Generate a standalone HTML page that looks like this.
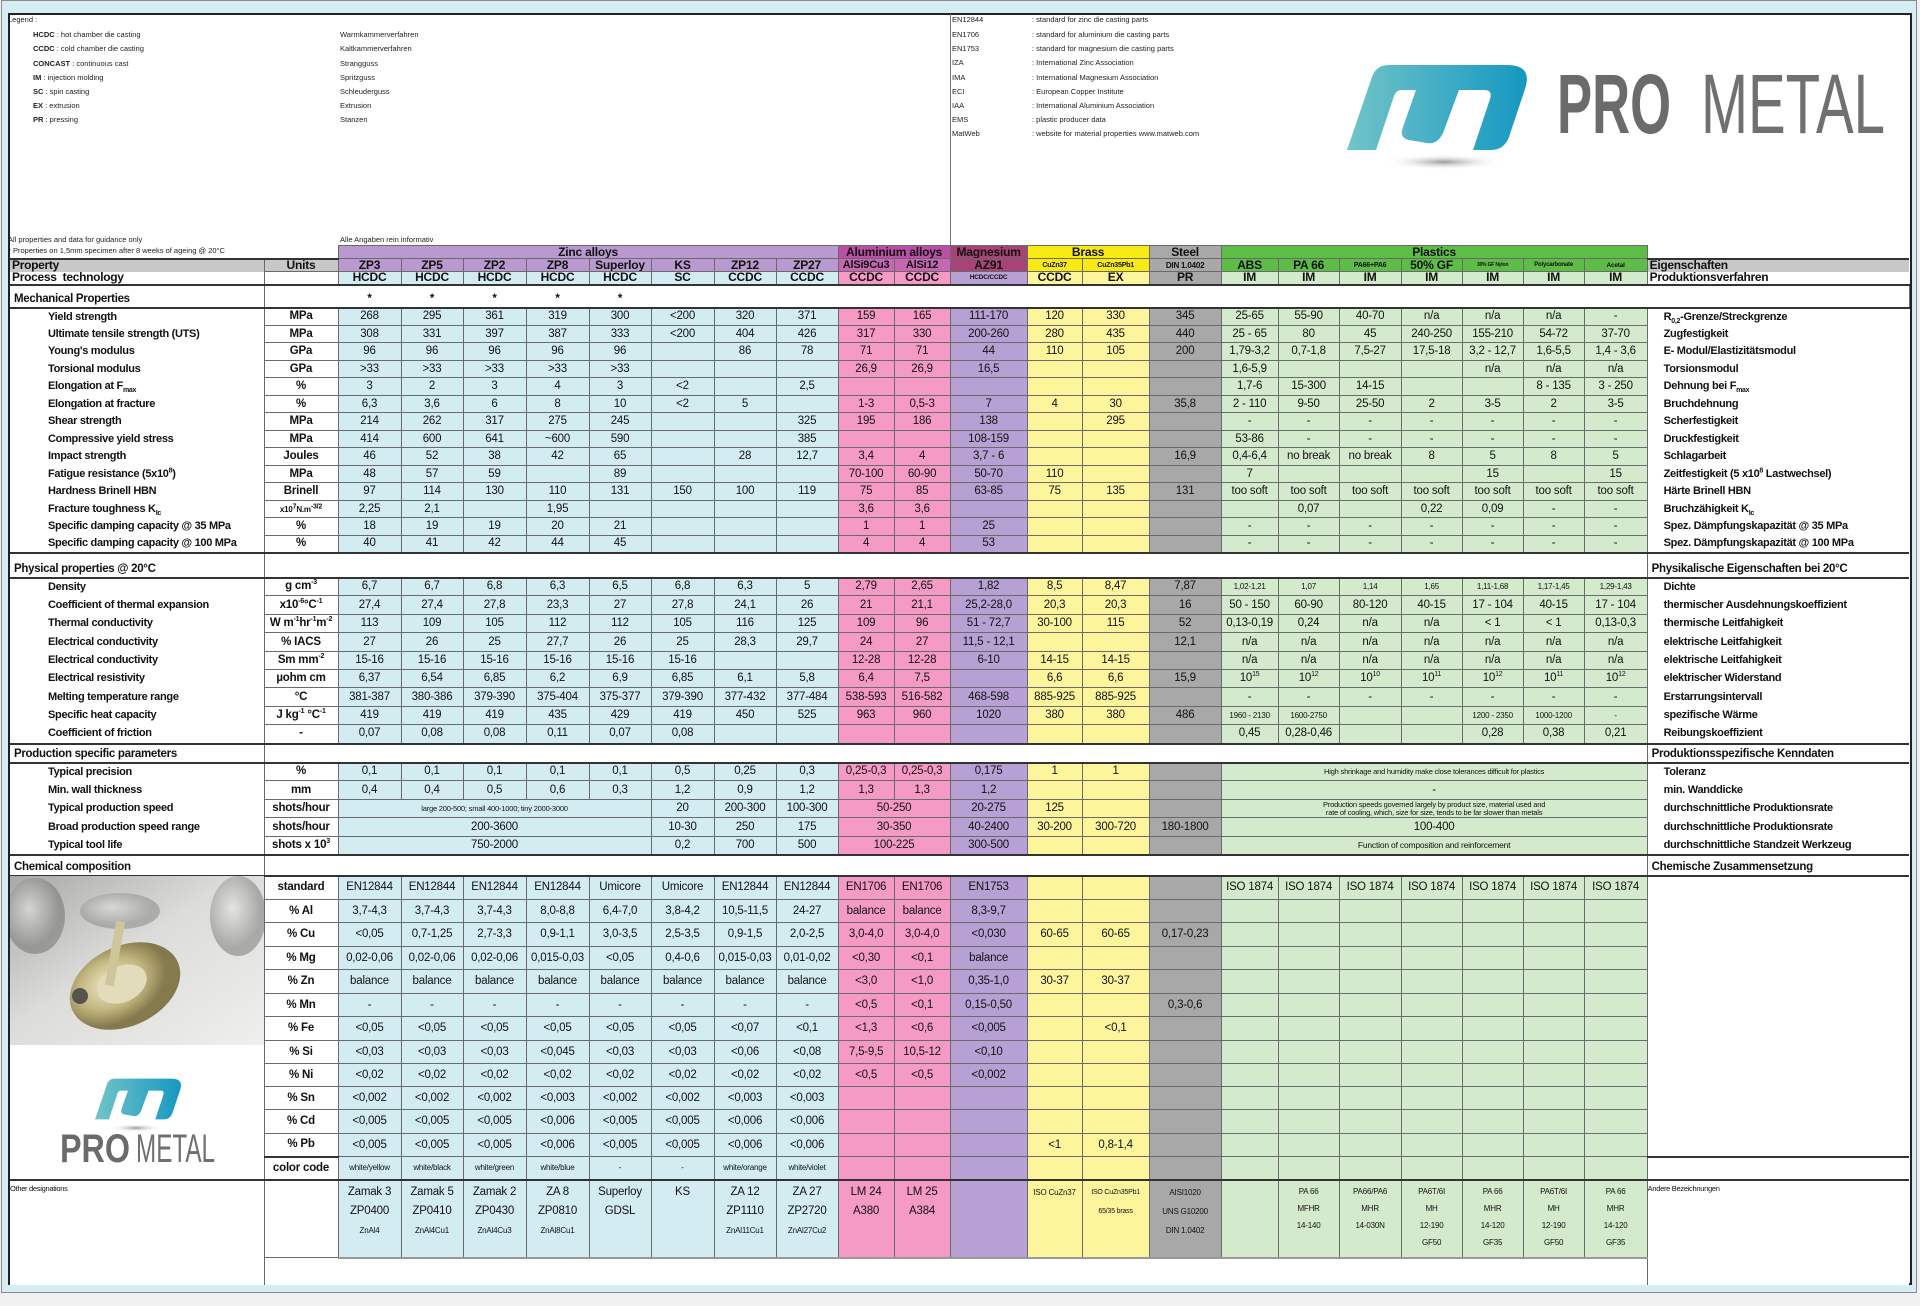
<!DOCTYPE html>
<html><head><meta charset="utf-8">
<style>
body{margin:0;width:1920px;height:1306px;background:#f1f1f1;position:relative;overflow:hidden;font-family:"Liberation Sans Narrow","Liberation Sans",Arial,sans-serif;color:#111}
#outer{position:absolute;left:1px;top:0;width:1916px;height:1293px;background:#d6eef3;border:1px solid #8a8a8a;box-sizing:border-box}
#inner{position:absolute;left:8px;top:13px;width:1904px;height:1272px;background:#fff;border:2px solid #222;box-sizing:border-box}
.lg{position:absolute;font-family:"Liberation Sans",Arial,sans-serif;font-size:7.5px;line-height:9px;white-space:nowrap;color:#222}
.lg b{font-weight:bold}
table.t{position:absolute;left:10px;top:245px;width:1899px;table-layout:fixed;border-collapse:collapse;font-size:11.5px;letter-spacing:-0.2px}
.t td{padding:0;text-align:center;white-space:nowrap;overflow:hidden;border:1px solid #6a6a6a;line-height:11px}
.t td:first-child{border:none;text-align:left;font-weight:bold;padding-left:38px;font-size:11px;letter-spacing:-0.3px}
.t td:last-child{border:none;border-left:1px solid #6a6a6a;text-align:left;font-weight:bold;padding-left:16px;font-size:11px;letter-spacing:-0.3px}
.t td:nth-child(2){font-weight:bold;background:#fff}
.t tr.r td:nth-child(n+3):nth-child(-n+10){background:#d3ecf2}
.t tr.r td:nth-child(n+11):nth-child(-n+12){background:#f59ac4}
.t tr.r td:nth-child(13){background:#b7a0d3}
.t tr.r td:nth-child(n+14):nth-child(-n+15){background:#fcf59c}
.t tr.r td:nth-child(16){background:#a8a8a8}
.t tr.r td:nth-child(n+17):nth-child(-n+23){background:#d4eacc}
.t td.z{background:#d3ecf2}.t td.a{background:#f59ac4}.t td.m{background:#b7a0d3}.t td.b{background:#fcf59c}.t td.s{background:#a8a8a8}.t td.p{background:#d4eacc}
.t td.gz{background:#b999cf}.t td.ga{background:#bb4fa8}.t td.ga2{background:#c766b2}.t td.gm{background:#a84376}.t td.gb{background:#f8ea12}.t td.gs{background:#a8a8a8}.t td.gp{background:#5dbd47}
.t tr.g td{font-weight:bold;font-size:12px}
.t tr.h td{border-top:2px solid #333;border-bottom:2px solid #333;border-left:none;border-right:none;background:#fff;font-weight:bold;font-size:11.5px;vertical-align:bottom;padding-bottom:2px}
.t tr.h td:first-child{padding-left:4px}
.t tr.h td:nth-child(2){border-left:1px solid #6a6a6a}
.t tr.h td:last-child{border-left:1px solid #6a6a6a;padding-left:4px}
.t tr.bl td{border:none;background:#fff}
.t tr.bl td:nth-child(2),.t tr.bl td:last-child{border-left:1px solid #6a6a6a}
.t tr.cc td{border-bottom:2px solid #333}
.t tr.cc td:last-child{border-top:2px solid #333}
.sm{font-size:8px}.xs{font-size:6px}.t7{font-size:7.5px}
sup,sub{font-size:7px;line-height:0}
.t tr.od td{vertical-align:top;line-height:19px;padding-top:2px}
</style></head><body>
<div id="outer"></div>
<div id="inner"></div>
<div style="position:absolute;left:950px;top:14px;width:1px;height:231px;background:#777"></div>

<div class="lg" style="left:8px;top:15px">Legend :</div>
<div class="lg" style="left:33px;top:30px"><b>HCDC</b> : hot chamber die casting</div>
<div class="lg" style="left:33px;top:44px"><b>CCDC</b> : cold chamber die casting</div>
<div class="lg" style="left:33px;top:59px"><b>CONCAST</b> : continuous cast</div>
<div class="lg" style="left:33px;top:73px"><b>IM</b> : injection molding</div>
<div class="lg" style="left:33px;top:87px"><b>SC</b> : spin casting</div>
<div class="lg" style="left:33px;top:101px"><b>EX</b> : extrusion</div>
<div class="lg" style="left:33px;top:115px"><b>PR</b> : pressing</div>
<div class="lg" style="left:340px;top:30px">Warmkammerverfahren</div>
<div class="lg" style="left:340px;top:44px">Kaltkammerverfahren</div>
<div class="lg" style="left:340px;top:59px">Strangguss</div>
<div class="lg" style="left:340px;top:73px">Spritzguss</div>
<div class="lg" style="left:340px;top:87px">Schleuderguss</div>
<div class="lg" style="left:340px;top:101px">Extrusion</div>
<div class="lg" style="left:340px;top:115px">Stanzen</div>
<div class="lg" style="left:952px;top:15px">EN12844</div><div class="lg" style="left:1032px;top:15px">: standard for zinc die casting parts</div>
<div class="lg" style="left:952px;top:30px">EN1706</div><div class="lg" style="left:1032px;top:30px">: standard for aluminium die casting parts</div>
<div class="lg" style="left:952px;top:44px">EN1753</div><div class="lg" style="left:1032px;top:44px">: standard for magnesium die casting parts</div>
<div class="lg" style="left:952px;top:58px">IZA</div><div class="lg" style="left:1032px;top:58px">: International Zinc Association</div>
<div class="lg" style="left:952px;top:73px">IMA</div><div class="lg" style="left:1032px;top:73px">: International Magnesium Association</div>
<div class="lg" style="left:952px;top:87px">ECI</div><div class="lg" style="left:1032px;top:87px">: European Copper Institute</div>
<div class="lg" style="left:952px;top:101px">IAA</div><div class="lg" style="left:1032px;top:101px">: International Aluminium Association</div>
<div class="lg" style="left:952px;top:115px">EMS</div><div class="lg" style="left:1032px;top:115px">: plastic producer data</div>
<div class="lg" style="left:952px;top:129px">MatWeb</div><div class="lg" style="left:1032px;top:129px">: website for material properties www.matweb.com</div>
<div class="lg" style="left:8px;top:235px">All properties and data for guidance only</div>
<div class="lg" style="left:8px;top:246px">* Properties on 1,5mm specimen after 8 weeks of ageing @ 20°C</div>
<div class="lg" style="left:340px;top:235px">Alle Angaben rein informativ</div>

<svg style="position:absolute;left:0;top:0" width="1920" height="1306">
<defs>
<linearGradient id="lgr" x1="0" y1="0" x2="1" y2="0"><stop offset="0" stop-color="#72c4c8"/><stop offset="1" stop-color="#1598c2"/></linearGradient>
<radialGradient id="sh"><stop offset="0" stop-color="#9a9a9a"/><stop offset="1" stop-color="#fff" stop-opacity="0"/></radialGradient>
<symbol id="ic" viewBox="0 0 182 85">
<path fill="url(#lgr)" fill-rule="evenodd" d="M0 85 L25 12 Q29 0 42 0 L160 0 Q186 0 178 24 L162 72 Q157 85 144 85 L126 85 L143 34 Q146 25 137 25 L112 25 L96 68 Q90 80 80 78 L62 75 Q52 73 56 62 L69 25 L55 25 Q49 25 47 31 L29 85 Z"/>
</symbol>
</defs>
<ellipse cx="1444" cy="162" rx="60" ry="8" fill="url(#sh)"/>
<use href="#ic" x="1347" y="65" width="182" height="85"/>
<text x="1557" y="133" font-family="Liberation Sans" font-weight="bold" font-size="84" fill="#6b6b6b" textLength="114" lengthAdjust="spacingAndGlyphs">PRO</text>
<text x="1701" y="133" font-family="Liberation Sans Narrow, Liberation Sans" font-size="84" fill="#707070" textLength="184" lengthAdjust="spacingAndGlyphs">METAL</text>
</svg>

<table class="t">
<colgroup><col style="width:254px"><col style="width:74px"><col style="width:63px"><col style="width:62px"><col style="width:63px"><col style="width:63px"><col style="width:62px"><col style="width:63px"><col style="width:62px"><col style="width:62px"><col style="width:56px"><col style="width:56px"><col style="width:77px"><col style="width:55px"><col style="width:67px"><col style="width:72px"><col style="width:57px"><col style="width:61px"><col style="width:62px"><col style="width:61px"><col style="width:61px"><col style="width:61px"><col style="width:63px"><col style="width:262px"></colgroup>
<tr class="g" style="height:13px"><td></td><td style="border:none"></td><td colspan="8" class="gz">Zinc alloys</td><td colspan="2" class="ga">Aluminium alloys</td><td class="gm">Magnesium</td><td colspan="2" class="gb">Brass</td><td class="gs">Steel</td><td colspan="7" class="gp">Plastics</td><td style="border:none"></td></tr>
<tr class="g" style="height:13px"><td style="background:#c8c8c8;padding-left:2px;border-top:2px solid #333">Property</td><td style="background:#c8c8c8;border-top:2px solid #333">Units</td><td class="gz">ZP3</td><td class="gz">ZP5</td><td class="gz">ZP2</td><td class="gz">ZP8</td><td class="gz">Superloy</td><td class="gz">KS</td><td class="gz">ZP12</td><td class="gz">ZP27</td><td class="ga2" style="font-size:11px">AlSi9Cu3</td><td class="ga2" style="font-size:11px">AlSi12</td><td class="gm">AZ91</td><td class="gb xs" style="font-size:7px">CuZn37</td><td class="gb" style="font-size:7px">CuZn35Pb1</td><td class="gs" style="font-size:8px">DIN 1.0402</td><td class="gp">ABS</td><td class="gp">PA 66</td><td class="gp" style="font-size:7px">PA66+PA6</td><td class="gp">50% GF</td><td class="gp" style="font-size:5px">30% GF Nylon</td><td class="gp" style="font-size:6px">Polycarbonate</td><td class="gp" style="font-size:6.5px">Acetal</td><td style="background:#c8c8c8;padding-left:2px;border-top:2px solid #333">Eigenschaften</td></tr>
<tr class="g" style="height:13px"><td style="padding-left:2px;border-bottom:2px solid #333">Process&nbsp; technology</td><td style="border-bottom:2px solid #333"></td><td class="z">HCDC</td><td class="z">HCDC</td><td class="z">HCDC</td><td class="z">HCDC</td><td class="z">HCDC</td><td class="z">SC</td><td class="z">CCDC</td><td class="z">CCDC</td><td class="a">CCDC</td><td class="a">CCDC</td><td class="m" style="font-size:6.5px">HCDC/CCDC</td><td class="b">CCDC</td><td class="b">EX</td><td class="s">PR</td><td class="p">IM</td><td class="p">IM</td><td class="p">IM</td><td class="p">IM</td><td class="p">IM</td><td class="p">IM</td><td class="p">IM</td><td style="padding-left:2px;border-bottom:2px solid #333">Produktionsverfahren</td></tr>
<tr class="h" style="height:23px"><td>Mechanical Properties</td><td></td><td>*</td><td>*</td><td>*</td><td>*</td><td>*</td><td colspan="17"></td><td>Mechanische Eigenschaften</td></tr>

<tr class="r" style="height:18px"><td>Yield strength</td><td>MPa</td><td>268</td><td>295</td><td>361</td><td>319</td><td>300</td><td>&lt;200</td><td>320</td><td>371</td><td>159</td><td>165</td><td>111-170</td><td>120</td><td>330</td><td>345</td><td>25-65</td><td>55-90</td><td>40-70</td><td>n/a</td><td>n/a</td><td>n/a</td><td>-</td><td>R<sub>0,2</sub>-Grenze/Streckgrenze</td></tr>
<tr class="r" style="height:17px"><td>Ultimate tensile strength (UTS)</td><td>MPa</td><td>308</td><td>331</td><td>397</td><td>387</td><td>333</td><td>&lt;200</td><td>404</td><td>426</td><td>317</td><td>330</td><td>200-260</td><td>280</td><td>435</td><td>440</td><td>25 - 65</td><td>80</td><td>45</td><td>240-250</td><td>155-210</td><td>54-72</td><td>37-70</td><td>Zugfestigkeit</td></tr>
<tr class="r" style="height:18px"><td>Young's modulus</td><td>GPa</td><td>96</td><td>96</td><td>96</td><td>96</td><td>96</td><td></td><td>86</td><td>78</td><td>71</td><td>71</td><td>44</td><td>110</td><td>105</td><td>200</td><td>1,79-3,2</td><td>0,7-1,8</td><td>7,5-27</td><td>17,5-18</td><td>3,2 - 12,7</td><td>1,6-5,5</td><td>1,4 - 3,6</td><td>E- Modul/Elastizitätsmodul</td></tr>
<tr class="r" style="height:17px"><td>Torsional modulus</td><td>GPa</td><td>&gt;33</td><td>&gt;33</td><td>&gt;33</td><td>&gt;33</td><td>&gt;33</td><td></td><td></td><td></td><td>26,9</td><td>26,9</td><td>16,5</td><td></td><td></td><td></td><td>1,6-5,9</td><td></td><td></td><td></td><td>n/a</td><td>n/a</td><td>n/a</td><td>Torsionsmodul</td></tr>
<tr class="r" style="height:18px"><td>Elongation at F<sub>max</sub></td><td>%</td><td>3</td><td>2</td><td>3</td><td>4</td><td>3</td><td>&lt;2</td><td></td><td>2,5</td><td></td><td></td><td></td><td></td><td></td><td></td><td>1,7-6</td><td>15-300</td><td>14-15</td><td></td><td></td><td>8 - 135</td><td>3 - 250</td><td>Dehnung bei F<sub>max</sub></td></tr>
<tr class="r" style="height:17px"><td>Elongation at fracture</td><td>%</td><td>6,3</td><td>3,6</td><td>6</td><td>8</td><td>10</td><td>&lt;2</td><td>5</td><td></td><td>1-3</td><td>0,5-3</td><td>7</td><td>4</td><td>30</td><td>35,8</td><td>2 - 110</td><td>9-50</td><td>25-50</td><td>2</td><td>3-5</td><td>2</td><td>3-5</td><td>Bruchdehnung</td></tr>
<tr class="r" style="height:18px"><td>Shear strength</td><td>MPa</td><td>214</td><td>262</td><td>317</td><td>275</td><td>245</td><td></td><td></td><td>325</td><td>195</td><td>186</td><td>138</td><td></td><td>295</td><td></td><td>-</td><td>-</td><td>-</td><td>-</td><td>-</td><td>-</td><td>-</td><td>Scherfestigkeit</td></tr>
<tr class="r" style="height:17px"><td>Compressive yield stress</td><td>MPa</td><td>414</td><td>600</td><td>641</td><td>~600</td><td>590</td><td></td><td></td><td>385</td><td></td><td></td><td>108-159</td><td></td><td></td><td></td><td>53-86</td><td>-</td><td>-</td><td>-</td><td>-</td><td>-</td><td>-</td><td>Druckfestigkeit</td></tr>
<tr class="r" style="height:18px"><td>Impact strength</td><td>Joules</td><td>46</td><td>52</td><td>38</td><td>42</td><td>65</td><td></td><td>28</td><td>12,7</td><td>3,4</td><td>4</td><td>3,7 - 6</td><td></td><td></td><td>16,9</td><td>0,4-6,4</td><td>no break</td><td>no break</td><td>8</td><td>5</td><td>8</td><td>5</td><td>Schlagarbeit</td></tr>
<tr class="r" style="height:17px"><td>Fatigue resistance (5x10<sup>8</sup>)</td><td>MPa</td><td>48</td><td>57</td><td>59</td><td></td><td>89</td><td></td><td></td><td></td><td>70-100</td><td>60-90</td><td>50-70</td><td>110</td><td></td><td></td><td>7</td><td></td><td></td><td></td><td>15</td><td></td><td>15</td><td>Zeitfestigkeit (5 x10<sup>8</sup> Lastwechsel)</td></tr>
<tr class="r" style="height:18px"><td>Hardness Brinell HBN</td><td>Brinell</td><td>97</td><td>114</td><td>130</td><td>110</td><td>131</td><td>150</td><td>100</td><td>119</td><td>75</td><td>85</td><td>63-85</td><td>75</td><td>135</td><td>131</td><td>too soft</td><td>too soft</td><td>too soft</td><td>too soft</td><td>too soft</td><td>too soft</td><td>too soft</td><td>Härte Brinell HBN</td></tr>
<tr class="r" style="height:17px"><td>Fracture toughness K<sub>Ic</sub></td><td style="font-size:8px">x10<sup>7</sup>N.m<sup>-3/2</sup></td><td>2,25</td><td>2,1</td><td></td><td>1,95</td><td></td><td></td><td></td><td></td><td>3,6</td><td>3,6</td><td></td><td></td><td></td><td></td><td></td><td>0,07</td><td></td><td>0,22</td><td>0,09</td><td>-</td><td>-</td><td>Bruchzähigkeit K<sub>Ic</sub></td></tr>
<tr class="r" style="height:18px"><td>Specific damping capacity @ 35 MPa</td><td>%</td><td>18</td><td>19</td><td>19</td><td>20</td><td>21</td><td></td><td></td><td></td><td>1</td><td>1</td><td>25</td><td></td><td></td><td></td><td>-</td><td>-</td><td>-</td><td>-</td><td>-</td><td>-</td><td>-</td><td>Spez. Dämpfungskapazität @ 35 MPa</td></tr>
<tr class="r" style="height:17px"><td>Specific damping capacity @ 100 MPa</td><td>%</td><td>40</td><td>41</td><td>42</td><td>44</td><td>45</td><td></td><td></td><td></td><td>4</td><td>4</td><td>53</td><td></td><td></td><td></td><td>-</td><td>-</td><td>-</td><td>-</td><td>-</td><td>-</td><td>-</td><td>Spez. Dämpfungskapazität @ 100 MPa</td></tr>

<tr class="h" style="height:25px"><td>Physical properties @ 20°C</td><td colspan="22"></td><td>Physikalische Eigenschaften bei 20°C</td></tr>
<tr class="r" style="height:18px"><td>Density</td><td>g cm<sup>-3</sup></td><td>6,7</td><td>6,7</td><td>6,8</td><td>6,3</td><td>6,5</td><td>6,8</td><td>6,3</td><td>5</td><td>2,79</td><td>2,65</td><td>1,82</td><td>8,5</td><td>8,47</td><td>7,87</td><td class="sm">1,02-1,21</td><td class="sm">1,07</td><td class="sm">1,14</td><td class="sm">1,65</td><td class="sm">1,11-1,68</td><td class="sm">1,17-1,45</td><td class="sm">1,29-1,43</td><td>Dichte</td></tr>
<tr class="r" style="height:19px"><td>Coefficient of thermal expansion</td><td>x10<sup>-6</sup>°C<sup>-1</sup></td><td>27,4</td><td>27,4</td><td>27,8</td><td>23,3</td><td>27</td><td>27,8</td><td>24,1</td><td>26</td><td>21</td><td>21,1</td><td>25,2-28,0</td><td>20,3</td><td>20,3</td><td>16</td><td>50 - 150</td><td>60-90</td><td>80-120</td><td>40-15</td><td>17 - 104</td><td>40-15</td><td>17 - 104</td><td>thermischer Ausdehnungskoeffizient</td></tr>
<tr class="r" style="height:18px"><td>Thermal conductivity</td><td>W m<sup>-1</sup>hr<sup>-1</sup>m<sup>-2</sup></td><td>113</td><td>109</td><td>105</td><td>112</td><td>112</td><td>105</td><td>116</td><td>125</td><td>109</td><td>96</td><td>51 - 72,7</td><td>30-100</td><td>115</td><td>52</td><td>0,13-0,19</td><td>0,24</td><td>n/a</td><td>n/a</td><td>&lt; 1</td><td>&lt; 1</td><td>0,13-0,3</td><td>thermische Leitfahigkeit</td></tr>
<tr class="r" style="height:19px"><td>Electrical conductivity</td><td>% IACS</td><td>27</td><td>26</td><td>25</td><td>27,7</td><td>26</td><td>25</td><td>28,3</td><td>29,7</td><td>24</td><td>27</td><td>11,5 - 12,1</td><td></td><td></td><td>12,1</td><td>n/a</td><td>n/a</td><td>n/a</td><td>n/a</td><td>n/a</td><td>n/a</td><td>n/a</td><td>elektrische Leitfahigkeit</td></tr>
<tr class="r" style="height:18px"><td>Electrical conductivity</td><td>Sm mm<sup>-2</sup></td><td>15-16</td><td>15-16</td><td>15-16</td><td>15-16</td><td>15-16</td><td>15-16</td><td></td><td></td><td>12-28</td><td>12-28</td><td>6-10</td><td>14-15</td><td>14-15</td><td></td><td>n/a</td><td>n/a</td><td>n/a</td><td>n/a</td><td>n/a</td><td>n/a</td><td>n/a</td><td>elektrische Leitfahigkeit</td></tr>
<tr class="r" style="height:18px"><td>Electrical resistivity</td><td>µohm cm</td><td>6,37</td><td>6,54</td><td>6,85</td><td>6,2</td><td>6,9</td><td>6,85</td><td>6,1</td><td>5,8</td><td>6,4</td><td>7,5</td><td></td><td>6,6</td><td>6,6</td><td>15,9</td><td>10<sup>15</sup></td><td>10<sup>12</sup></td><td>10<sup>10</sup></td><td>10<sup>11</sup></td><td>10<sup>12</sup></td><td>10<sup>11</sup></td><td>10<sup>12</sup></td><td>elektrischer Widerstand</td></tr>
<tr class="r" style="height:19px"><td>Melting temperature range</td><td>°C</td><td>381-387</td><td>380-386</td><td>379-390</td><td>375-404</td><td>375-377</td><td>379-390</td><td>377-432</td><td>377-484</td><td>538-593</td><td>516-582</td><td>468-598</td><td>885-925</td><td>885-925</td><td></td><td>-</td><td>-</td><td>-</td><td>-</td><td>-</td><td>-</td><td>-</td><td>Erstarrungsintervall</td></tr>
<tr class="r" style="height:18px"><td>Specific heat capacity</td><td>J kg<sup>-1</sup> °C<sup>-1</sup></td><td>419</td><td>419</td><td>419</td><td>435</td><td>429</td><td>419</td><td>450</td><td>525</td><td>963</td><td>960</td><td>1020</td><td>380</td><td>380</td><td>486</td><td class="sm">1960 - 2130</td><td class="sm">1600-2750</td><td></td><td></td><td class="sm">1200 - 2350</td><td class="sm">1000-1200</td><td class="sm">-</td><td>spezifische Wärme</td></tr>
<tr class="r" style="height:19px"><td>Coefficient of friction</td><td>-</td><td>0,07</td><td>0,08</td><td>0,08</td><td>0,11</td><td>0,07</td><td>0,08</td><td></td><td></td><td></td><td></td><td></td><td></td><td></td><td></td><td>0,45</td><td>0,28-0,46</td><td></td><td></td><td>0,28</td><td>0,38</td><td>0,21</td><td>Reibungskoeffizient</td></tr>

<tr class="h" style="height:19px"><td>Production specific parameters</td><td colspan="22"></td><td>Produktionsspezifische Kenndaten</td></tr>
<tr style="height:18px"><td>Typical precision</td><td>%</td><td class="z">0,1</td><td class="z">0,1</td><td class="z">0,1</td><td class="z">0,1</td><td class="z">0,1</td><td class="z">0,5</td><td class="z">0,25</td><td class="z">0,3</td><td class="a">0,25-0,3</td><td class="a">0,25-0,3</td><td class="m">0,175</td><td class="b">1</td><td class="b">1</td><td class="s"></td><td colspan="7" class="p t7">High shrinkage and humidity make close tolerances difficult for plastics</td><td>Toleranz</td></tr>
<tr style="height:19px"><td>Min. wall thickness</td><td>mm</td><td class="z">0,4</td><td class="z">0,4</td><td class="z">0,5</td><td class="z">0,6</td><td class="z">0,3</td><td class="z">1,2</td><td class="z">0,9</td><td class="z">1,2</td><td class="a">1,3</td><td class="a">1,3</td><td class="m">1,2</td><td class="b"></td><td class="b"></td><td class="s"></td><td colspan="7" class="p">-</td><td>min. Wanddicke</td></tr>
<tr style="height:18px"><td>Typical production speed</td><td>shots/hour</td><td colspan="5" class="z t7">large 200-500; small 400-1000; tiny 2000-3000</td><td class="z">20</td><td class="z">200-300</td><td class="z">100-300</td><td colspan="2" class="a">50-250</td><td class="m">20-275</td><td class="b">125</td><td class="b"></td><td class="s"></td><td colspan="7" class="p t7" style="line-height:8px">Production speeds governed largely by product size, material used and<br>rate of cooling, which, size for size, tends to be far slower than metals</td><td>durchschnittliche Produktionsrate</td></tr>
<tr style="height:19px"><td>Broad production speed range</td><td>shots/hour</td><td colspan="5" class="z">200-3600</td><td class="z">10-30</td><td class="z">250</td><td class="z">175</td><td colspan="2" class="a">30-350</td><td class="m">40-2400</td><td class="b">30-200</td><td class="b">300-720</td><td class="s">180-1800</td><td colspan="7" class="p">100-400</td><td>durchschnittliche Produktionsrate</td></tr>
<tr style="height:18px"><td>Typical tool life</td><td>shots x 10<sup>3</sup></td><td colspan="5" class="z">750-2000</td><td class="z">0,2</td><td class="z">700</td><td class="z">500</td><td colspan="2" class="a">100-225</td><td class="m">300-500</td><td class="b"></td><td class="b"></td><td class="s"></td><td colspan="7" class="p" style="font-size:8.5px">Function of composition and reinforcement</td><td>durchschnittliche Standzeit Werkzeug</td></tr>

<tr class="h" style="height:21px"><td>Chemical composition</td><td colspan="22"></td><td>Chemische Zusammensetzung</td></tr>
<tr class="r" style="height:24px"><td></td><td>standard</td><td>EN12844</td><td>EN12844</td><td>EN12844</td><td>EN12844</td><td>Umicore</td><td>Umicore</td><td>EN12844</td><td>EN12844</td><td>EN1706</td><td>EN1706</td><td>EN1753</td><td></td><td></td><td></td><td>ISO 1874</td><td>ISO 1874</td><td>ISO 1874</td><td>ISO 1874</td><td>ISO 1874</td><td>ISO 1874</td><td>ISO 1874</td><td></td></tr>
<tr class="r" style="height:23px"><td></td><td>% Al</td><td>3,7-4,3</td><td>3,7-4,3</td><td>3,7-4,3</td><td>8,0-8,8</td><td>6,4-7,0</td><td>3,8-4,2</td><td>10,5-11,5</td><td>24-27</td><td>balance</td><td>balance</td><td>8,3-9,7</td><td></td><td></td><td></td><td></td><td></td><td></td><td></td><td></td><td></td><td></td><td></td></tr>
<tr class="r" style="height:24px"><td></td><td>% Cu</td><td>&lt;0,05</td><td>0,7-1,25</td><td>2,7-3,3</td><td>0,9-1,1</td><td>3,0-3,5</td><td>2,5-3,5</td><td>0,9-1,5</td><td>2,0-2,5</td><td>3,0-4,0</td><td>3,0-4,0</td><td>&lt;0,030</td><td>60-65</td><td>60-65</td><td>0,17-0,23</td><td></td><td></td><td></td><td></td><td></td><td></td><td></td><td></td></tr>
<tr class="r" style="height:23px"><td></td><td>% Mg</td><td>0,02-0,06</td><td>0,02-0,06</td><td>0,02-0,06</td><td>0,015-0,03</td><td>&lt;0,05</td><td>0,4-0,6</td><td>0,015-0,03</td><td>0,01-0,02</td><td>&lt;0,30</td><td>&lt;0,1</td><td>balance</td><td></td><td></td><td></td><td></td><td></td><td></td><td></td><td></td><td></td><td></td><td></td></tr>
<tr class="r" style="height:24px"><td></td><td>% Zn</td><td>balance</td><td>balance</td><td>balance</td><td>balance</td><td>balance</td><td>balance</td><td>balance</td><td>balance</td><td>&lt;3,0</td><td>&lt;1,0</td><td>0,35-1,0</td><td>30-37</td><td>30-37</td><td></td><td></td><td></td><td></td><td></td><td></td><td></td><td></td><td></td></tr>
<tr class="r" style="height:23px"><td></td><td>% Mn</td><td>-</td><td>-</td><td>-</td><td>-</td><td>-</td><td>-</td><td>-</td><td>-</td><td>&lt;0,5</td><td>&lt;0,1</td><td>0,15-0,50</td><td></td><td></td><td>0,3-0,6</td><td></td><td></td><td></td><td></td><td></td><td></td><td></td><td></td></tr>
<tr class="r" style="height:24px"><td></td><td>% Fe</td><td>&lt;0,05</td><td>&lt;0,05</td><td>&lt;0,05</td><td>&lt;0,05</td><td>&lt;0,05</td><td>&lt;0,05</td><td>&lt;0,07</td><td>&lt;0,1</td><td>&lt;1,3</td><td>&lt;0,6</td><td>&lt;0,005</td><td></td><td>&lt;0,1</td><td></td><td></td><td></td><td></td><td></td><td></td><td></td><td></td><td></td></tr>
<tr class="r" style="height:23px"><td></td><td>% Si</td><td>&lt;0,03</td><td>&lt;0,03</td><td>&lt;0,03</td><td>&lt;0,045</td><td>&lt;0,03</td><td>&lt;0,03</td><td>&lt;0,06</td><td>&lt;0,08</td><td>7,5-9,5</td><td>10,5-12</td><td>&lt;0,10</td><td></td><td></td><td></td><td></td><td></td><td></td><td></td><td></td><td></td><td></td><td></td></tr>
<tr class="r" style="height:23px"><td></td><td>% Ni</td><td>&lt;0,02</td><td>&lt;0,02</td><td>&lt;0,02</td><td>&lt;0,02</td><td>&lt;0,02</td><td>&lt;0,02</td><td>&lt;0,02</td><td>&lt;0,02</td><td>&lt;0,5</td><td>&lt;0,5</td><td>&lt;0,002</td><td></td><td></td><td></td><td></td><td></td><td></td><td></td><td></td><td></td><td></td><td></td></tr>
<tr class="r" style="height:23px"><td></td><td>% Sn</td><td>&lt;0,002</td><td>&lt;0,002</td><td>&lt;0,002</td><td>&lt;0,003</td><td>&lt;0,002</td><td>&lt;0,002</td><td>&lt;0,003</td><td>&lt;0,003</td><td></td><td></td><td></td><td></td><td></td><td></td><td></td><td></td><td></td><td></td><td></td><td></td><td></td><td></td></tr>
<tr class="r" style="height:24px"><td></td><td>% Cd</td><td>&lt;0,005</td><td>&lt;0,005</td><td>&lt;0,005</td><td>&lt;0,006</td><td>&lt;0,005</td><td>&lt;0,005</td><td>&lt;0,006</td><td>&lt;0,006</td><td></td><td></td><td></td><td></td><td></td><td></td><td></td><td></td><td></td><td></td><td></td><td></td><td></td><td></td></tr>
<tr class="r" style="height:23px"><td></td><td style="border-bottom:2px solid #333">% Pb</td><td>&lt;0,005</td><td>&lt;0,005</td><td>&lt;0,005</td><td>&lt;0,006</td><td>&lt;0,005</td><td>&lt;0,005</td><td>&lt;0,006</td><td>&lt;0,006</td><td></td><td></td><td></td><td>&lt;1</td><td>0,8-1,4</td><td></td><td></td><td></td><td></td><td></td><td></td><td></td><td></td><td></td></tr>
<tr class="r cc" style="height:23px"><td></td><td>color code</td><td class="sm">white/yellow</td><td class="sm">white/black</td><td class="sm">white/green</td><td class="sm">white/blue</td><td class="sm">-</td><td class="sm">-</td><td class="sm">white/orange</td><td class="sm">white/violet</td><td></td><td></td><td></td><td></td><td></td><td></td><td></td><td></td><td></td><td></td><td></td><td></td><td></td><td></td></tr>
<tr class="r od" style="height:78px"><td style="font-size:7.5px;font-weight:normal;padding-left:0;line-height:12px">Other designations</td><td></td><td>Zamak 3<br>ZP0400<br><span class="sm">ZnAl4</span></td><td>Zamak 5<br>ZP0410<br><span class="sm">ZnAl4Cu1</span></td><td>Zamak 2<br>ZP0430<br><span class="sm">ZnAl4Cu3</span></td><td>ZA 8<br>ZP0810<br><span class="sm">ZnAl8Cu1</span></td><td>Superloy<br>GDSL</td><td>KS</td><td>ZA 12<br>ZP1110<br><span class="sm">ZnAl11Cu1</span></td><td>ZA 27<br>ZP2720<br><span class="sm">ZnAl27Cu2</span></td><td>LM 24<br>A380</td><td>LM 25<br>A384</td><td></td><td class="sm" style="line-height:19px">ISO CuZn37</td><td style="font-size:7px;line-height:19px">ISO CuZn35Pb1<br>65/35 brass</td><td class="sm" style="line-height:19px">AISI1020<br>UNS G10200<br>DIN 1.0402</td><td></td><td class="sm" style="line-height:17px">PA 66<br>MFHR<br>14-140</td><td class="sm" style="line-height:17px">PA66/PA6<br>MHR<br>14-030N</td><td class="sm" style="line-height:17px">PA6T/6I<br>MH<br>12-190<br>GF50</td><td class="sm" style="line-height:17px">PA 66<br>MHR<br>14-120<br>GF35</td><td class="sm" style="line-height:17px">PA6T/6I<br>MH<br>12-190<br>GF50</td><td class="sm" style="line-height:17px">PA 66<br>MHR<br>14-120<br>GF35</td><td style="font-size:7.5px;font-weight:normal;padding-left:0;line-height:12px">Andere Bezeichnungen</td></tr>
<tr class="bl" style="height:27px"><td></td><td></td><td colspan="21" style="border-top:2px solid #999"></td><td></td></tr>
</table>

<svg style="position:absolute;left:10px;top:876px" width="254" height="169">
<defs>
<linearGradient id="ph" x1="0" y1="0" x2="1" y2="1"><stop offset="0" stop-color="#a8a8a6"/><stop offset="0.45" stop-color="#dcdcda"/><stop offset="1" stop-color="#efefed"/></linearGradient>
<radialGradient id="gd" cx="0.4" cy="0.4"><stop offset="0" stop-color="#f2ecd2"/><stop offset="0.6" stop-color="#c2b57e"/><stop offset="1" stop-color="#857a4e"/></radialGradient>
<radialGradient id="mt" cx="0.4" cy="0.4"><stop offset="0" stop-color="#e8e8e8"/><stop offset="1" stop-color="#7a7a7a"/></radialGradient>
</defs>
<rect width="254" height="169" fill="url(#ph)"/>
<ellipse cx="25" cy="40" rx="30" ry="38" fill="url(#mt)" opacity="0.6"/>
<ellipse cx="110" cy="35" rx="40" ry="18" fill="url(#mt)" opacity="0.45"/>
<ellipse cx="228" cy="40" rx="28" ry="40" fill="url(#mt)" opacity="0.55"/>
<ellipse cx="115" cy="110" rx="58" ry="40" fill="url(#gd)" transform="rotate(-25 115 110)"/>
<ellipse cx="112" cy="108" rx="26" ry="18" fill="#e2dcbc" transform="rotate(-25 112 108)"/>
<rect x="100" y="45" width="9" height="65" fill="#cfc59a" transform="rotate(10 105 80)"/>
<circle cx="70" cy="120" r="8" fill="#55554d"/>
</svg>

<svg style="position:absolute;left:40px;top:1070px" width="200" height="100">
<ellipse cx="96" cy="58" rx="26" ry="4" fill="url(#sh)"/>
<use href="#ic" x="55" y="8" width="87" height="42"/>
<text x="20" y="92" font-family="Liberation Sans" font-weight="bold" font-size="40" fill="#6b6b6b" textLength="70" lengthAdjust="spacingAndGlyphs">PRO</text>
<text x="96" y="92" font-family="Liberation Sans Narrow, Liberation Sans" font-size="40" fill="#707070" textLength="79" lengthAdjust="spacingAndGlyphs">METAL</text>
</svg>
</body></html>
